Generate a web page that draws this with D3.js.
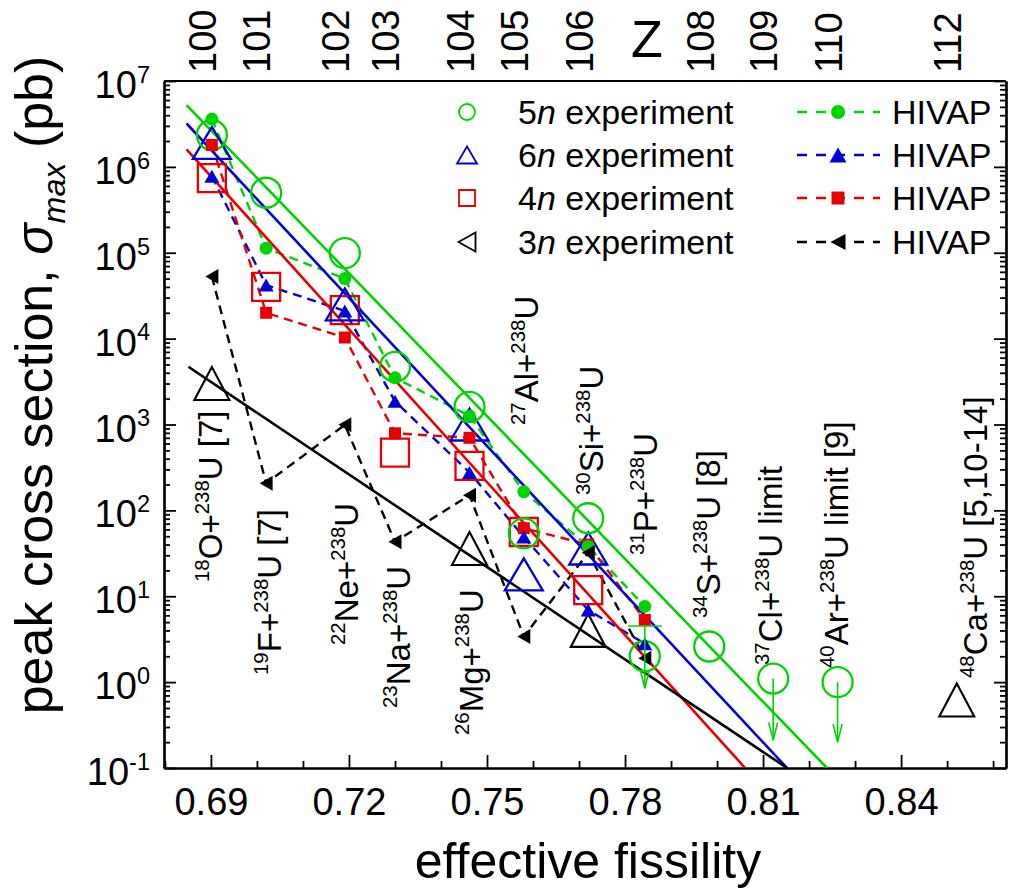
<!DOCTYPE html>
<html><head><meta charset="utf-8">
<script src="https://cdn.jsdelivr.net/npm/d3@7/dist/d3.min.js"></script>
<style>body{margin:0;background:#fff} text{font-family:"Liberation Sans",Arial,Helvetica,sans-serif;fill:#000}</style>
</head><body><svg id="c" width="1010" height="892"></svg>
<script>
// ---------------- data ----------------
const reactions = ["O","F","Ne","Na","Mg","Al","Si","P","S","Cl","Ar","Ca"];
const projMass  = ["18","19","22","23","26","27","30","31","34","37","40","48"];
const labelSuffix = [" [7]"," [7]","","","","","",""," [8]"," limit"," limit [9]"," [5,10-14]"];
const fissility = [0.6902,0.7020,0.7191,0.7300,0.7462,0.7580,0.7720,0.7843,0.7983,0.8122,0.8262,0.8521];
const zLabels   = ["100","101","102","103","104","105","106","Z","108","109","110","112"];

// experiments (index into reactions, value in pb)
const exp5nIdx = [0,1,2,3,4,5,6,7,8];
const exp5nVal = [2.35e6,5.0e5,9.9e4,4.7e3,1.6e3,54,81,2.0,2.6];
const exp5nLimIdx = [9,10];
const exp5nLimVal = [1.1,1.0];
const exp5nLimTo  = [0.21,0.2];
const exp5nBarIdx = [7];
const exp5nBarHi  = [4.5];
const exp5nBarLo  = [0.85];

const exp6nIdx = [0,2,4,5,6];
const exp6nVal = [1.9e6,2.5e4,1.0e3,18,36];

const exp4nIdx = [0,1,2,3,4,5,6];
const exp4nVal = [7.4e5,4.0e4,2.15e4,4.7e2,3.3e2,56,11.8];

const exp3nIdx = [0,4,6,11];
const exp3nVal = [3.0e3,36,4.0,0.62];

// HIVAP (indices 0..7)
const hivapIdx = [0,1,2,3,4,5,6,7];
const hivap5n = [3.6e6,1.13e5,5.0e4,3.5e3,1.26e3,1.65e2,38,7.6];
const hivap6n = [7.8e5,4.2e4,2.1e4,1.86e3,2.77e2,49,6.9,2.8];
const hivap4n = [1.8e6,2.0e4,1.03e4,7.9e2,7.0e2,62,40,5.3];
const hivap3n = [5.3e4,2.07e2,9.9e2,43,1.5e2,3.4,32,1.9];

// systematic fits: [x0, y0, x1, y1]
const fit5n = [0.6847,5.25e6,0.8239,0.1];
const fit6n = [0.6847,3.2e6,0.8152,0.1];
const fit4n = [0.6847,1.6e6,0.8061,0.1];
const fit3n = [0.6851,4.7e3,0.8152,0.1];

const xMajor = [0.69,0.72,0.75,0.78,0.81,0.84];
const yDecades = [-1,0,1,2,3,4,5,6,7];

// ---------------- layout ----------------
const X0=164, X1=1006, Y0=81, Y1=768;
const GREEN="#00d400", BLUE="#0000d8", RED="#e80000", BLACK="#000";
const svg = d3.select("#c");
const x = d3.scaleLinear().domain([0.6798,0.8628]).range([X0,X1]);
const y = d3.scaleLog().domain([0.1,1e7]).range([Y1,Y0]);

// label layout (pixel offset of baseline from marker x, start y)
const labelDx = [10,15,13,15,13,14,15,12,11,9,10,30];
const labelY  = [582,675,645,708,735,425,495,555,618,665,668,678];

// ---------------- helpers ----------------
function rich(t, parts, size){
  let shift=0;
  parts.forEach(p=>{
    const ts=t.append("tspan").text(p.t);
    let target = p.sup ? -size*0.4 : (p.sub ? size*0.25 : 0);
    ts.attr("dy", target-shift); shift=target;
    if(p.sup||p.sub) ts.attr("font-size", size*0.62);
    if(p.it) ts.attr("font-style","italic");
  });
}
const P = {
  circle:(r)=>`M${-r},0A${r},${r} 0 1,0 ${r},0A${r},${r} 0 1,0 ${-r},0Z`,
  triUp:(w,h)=>`M0,${-h/2}L${w/2},${h/2}L${-w/2},${h/2}Z`,
  triLeft:(w,h)=>`M${-w/2},0L${w/2},${-h/2}L${w/2},${h/2}Z`,
  square:(s)=>`M${-s/2},${-s/2}H${s/2}V${s/2}H${-s/2}Z`
};

// clip
svg.append("defs").append("clipPath").attr("id","clip").append("rect")
  .attr("x",X0).attr("y",Y0).attr("width",X1-X0).attr("height",Y1-Y0);

// ---------------- axes ----------------
const ax = svg.append("g");
const xMinor = d3.range(0.68,0.8631,0.01).map(v=>+v.toFixed(2)).filter(v=>!xMajor.some(m=>Math.abs(m-v)<1e-6));
ax.append("g").attr("transform",`translate(0,${Y1})`)
  .call(d3.axisBottom(x).tickValues(xMinor).tickSize(-7).tickFormat("").tickSizeOuter(0));
ax.append("g").attr("transform",`translate(0,${Y1})`)
  .call(d3.axisBottom(x).tickValues(xMajor).tickSize(-13).tickPadding(20).tickSizeOuter(0).tickFormat(d3.format(".2f")))
  .selectAll("text").attr("font-size",38);
const yMajorV = yDecades.map(d=>Math.pow(10,d));
const yMinorV = [];
yDecades.slice(0,-1).forEach(d=>{ for(let k=2;k<10;k++) yMinorV.push(k*Math.pow(10,d)); });
[[X0,d3.axisLeft],[X1,d3.axisRight]].forEach(([px,fn])=>{
  ax.append("g").attr("transform",`translate(${px},0)`).call(fn(y).tickValues(yMinorV).tickSize(-6).tickFormat("").tickSizeOuter(0));
  ax.append("g").attr("transform",`translate(${px},0)`).call(fn(y).tickValues(yMajorV).tickSize(-12).tickFormat("").tickSizeOuter(0));
});
ax.selectAll("path.domain").attr("stroke-width",2.2);
ax.selectAll(".tick line").attr("stroke-width",1.8);
ax.selectAll("text").attr("font-family","Liberation Sans, Arial, sans-serif").attr("fill","#000");
svg.append("line").attr("x1",X0).attr("x2",X1).attr("y1",Y0).attr("y2",Y0).attr("stroke","#000").attr("stroke-width",2.2);

// y tick labels
yDecades.forEach(d=>{
  const t = svg.append("text").attr("x",150).attr("y",y(Math.pow(10,d))+17).attr("text-anchor","end").attr("font-size",38);
  rich(t,[{t:"10"},{t:String(d),sup:true}],38);
});

// top Z labels
zLabels.forEach((z,i)=>{
  if(z==="Z"){
    svg.append("text").attr("x",x(fissility[i])+2).attr("y",57).attr("text-anchor","middle").attr("font-size",52).text(z);
  } else {
    svg.append("text").attr("transform",`translate(${x(fissility[i])-9},73) rotate(-90)`)
      .attr("dy","0.35em").attr("font-size",38).text(z);
  }
});

// axis titles
svg.append("text").attr("x",588).attr("y",878).attr("text-anchor","middle").attr("font-size",50).text("effective fissility");
{
  const t = svg.append("text").attr("transform","translate(52,385) rotate(-90)").attr("text-anchor","middle").attr("font-size",52);
  rich(t,[{t:"peak cross section, "},{t:"σ",it:true},{t:"max",sub:true,it:true},{t:" (pb)"}],52);
}

// ---------------- plot ----------------
const plot = svg.append("g").attr("clip-path","url(#clip)");

// reaction labels
reactions.forEach((r,i)=>{
  const t = svg.append("text").attr("transform",`translate(${x(fissility[i])+labelDx[i]},${labelY[i]}) rotate(-90)`).attr("font-size",33);
  rich(t,[{t:projMass[i],sup:true},{t:r+"+"},{t:"238",sup:true},{t:"U"+labelSuffix[i]}],33);
});

// HIVAP curves
const line = d3.line().x(d=>x(d[0])).y(d=>y(d[1])).curve(d3.curveLinear);
[[hivap5n,GREEN],[hivap6n,BLUE],[hivap4n,RED],[hivap3n,BLACK]].forEach(([vals,c])=>{
  const pts = hivapIdx.map((k,j)=>[fissility[k],vals[j]]);
  plot.append("path").attr("d",line(pts)).attr("fill","none").attr("stroke",c).attr("stroke-width",2.4).attr("stroke-dasharray","9,6");
});

// fit lines
[[fit5n,GREEN],[fit6n,BLUE],[fit4n,RED],[fit3n,BLACK]].forEach(([f,c])=>{
  plot.append("line").attr("x1",x(f[0])).attr("y1",y(f[1])).attr("x2",x(f[2])).attr("y2",y(f[3]))
    .attr("stroke",c).attr("stroke-width",2.6);
});

function markers(idx, vals, path, fill, stroke, sw){
  plot.selectAll(null).data(idx.map((k,j)=>[fissility[k],vals[j]])).enter().append("path")
    .attr("transform",d=>`translate(${x(d[0])},${y(d[1])})`).attr("d",path)
    .attr("fill",fill).attr("stroke",stroke).attr("stroke-width",sw||0);
}
// experiment markers (open)
markers(exp4nIdx,exp4nVal,P.square(28),"none",RED,2.3);
markers(exp6nIdx,exp6nVal,P.triUp(38,32),"none",BLUE,2.3);
markers(exp3nIdx,exp3nVal,P.triUp(35,33),"none",BLACK,2.1);
markers(exp5nIdx,exp5nVal,P.circle(15),"none",GREEN,2.3);
markers(exp5nLimIdx,exp5nLimVal,P.circle(15),"none",GREEN,2.3);
// HIVAP markers (filled)
markers(hivapIdx,hivap4n,P.square(12),RED,"none");
markers(hivapIdx,hivap5n,P.circle(6.5),GREEN,"none");
markers(hivapIdx,hivap6n,P.triUp(15,13),BLUE,"none");
markers(hivapIdx,hivap3n,P.triLeft(13,15),BLACK,"none");

// limit arrows
function arrow(px,yTop,yBot){
  plot.append("line").attr("x1",px).attr("x2",px).attr("y1",yTop).attr("y2",yBot).attr("stroke",GREEN).attr("stroke-width",1.6);
  plot.append("path").attr("d",`M${px-4.5},${yBot-18}L${px},${yBot}L${px+4.5},${yBot-18}`).attr("fill","none").attr("stroke",GREEN).attr("stroke-width",1.6);
}
exp5nLimIdx.forEach((k,j)=>arrow(x(fissility[k]),y(exp5nLimVal[j]),y(exp5nLimTo[j])));
exp5nBarIdx.forEach((k,j)=>{
  const px=x(fissility[k]);
  arrow(px,y(exp5nBarHi[j]),y(exp5nBarLo[j]));
  plot.append("line").attr("x1",px-17).attr("x2",px+17).attr("y1",y(exp5nBarHi[j])).attr("y2",y(exp5nBarHi[j])).attr("stroke",GREEN).attr("stroke-width",1.6);
});

// ---------------- legend ----------------
const legRows = [112,155,198,242];
const legExp = [
  {p:P.circle(8),c:GREEN,n:"5"},
  {p:P.triUp(20,17),c:BLUE,n:"6"},
  {p:P.square(16),c:RED,n:"4"},
  {p:P.triLeft(17,19),c:BLACK,n:"3"}];
const legHiv = [
  {p:P.circle(7),c:GREEN},{p:P.triUp(17,15),c:BLUE},{p:P.square(13),c:RED},{p:P.triLeft(15,16),c:BLACK}];
legExp.forEach((e,i)=>{
  svg.append("path").attr("transform",`translate(467,${legRows[i]})`).attr("d",e.p).attr("fill","none").attr("stroke",e.c).attr("stroke-width",1.8);
  const t=svg.append("text").attr("x",518).attr("y",legRows[i]+12).attr("font-size",34);
  rich(t,[{t:e.n},{t:"n",it:true},{t:" experiment"}],34);
});
legHiv.forEach((e,i)=>{
  svg.append("line").attr("x1",797).attr("x2",880).attr("y1",legRows[i]).attr("y2",legRows[i])
    .attr("stroke",e.c).attr("stroke-width",2.4).attr("stroke-dasharray","10,9");
  svg.append("path").attr("transform",`translate(838,${legRows[i]})`).attr("d",e.p).attr("fill",e.c);
  svg.append("text").attr("x",892).attr("y",legRows[i]+12).attr("font-size",34).text("HIVAP");
});
</script></body></html>
